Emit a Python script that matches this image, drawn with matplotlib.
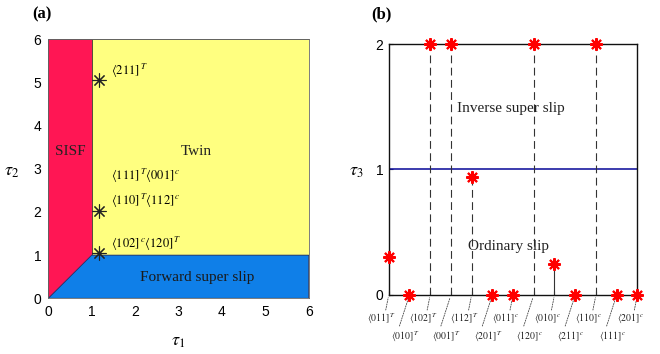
import matplotlib
matplotlib.use("Agg")
import matplotlib.pyplot as plt
from matplotlib.patches import Polygon

plt.rcParams['font.family'] = ['Liberation Sans', 'DejaVu Sans']
plt.rcParams['mathtext.fontset'] = 'stix'

# ---------------- data: panel (a) ----------------
sisf_x = [0, 0, 1, 1]
sisf_y = [0, 6, 6, 1]
twin_x = [1, 1, 6, 6]
twin_y = [1, 6, 6, 1]
fss_x = [0, 1, 6, 6]
fss_y = [0, 1, 1, 0]
star_a_x = [1.17, 1.17, 1.17]
star_a_y = [5.05, 2.03, 1.05]
star_a_labels = [r'$\langle 211]^{\,T}$',
                 r'$\langle 110]^{\,T}\langle 112]^{\,c}$',
                 r'$\langle 102]^{\,c}\langle 120]^{\,T}$']
extra_label = r'$\langle 111]^{\,T}\langle 001]^{\,c}$'
ticks_a = [0, 1, 2, 3, 4, 5, 6]

# ---------------- data: panel (b) ----------------
dirs = ['011', '010', '102', '001', '112', '201', '011',
        '120', '010', '211', '110', '111', '201']
dir_sup = ['T', 'T', 'T', 'T', 'T', 'T', 'c',
           'c', 'c', 'c', 'c', 'c', 'c']
tau3 = [0.30, 0, 2, 2, 0.94, 0, 0, 2, 0.25, 0, 2, 0, 0]
ticks_b = [0, 1, 2]

fig = plt.figure(figsize=(6.6, 3.54), dpi=100)

# ---------------- panel (a) ----------------
ax = fig.add_axes([0.0732, 0.1573, 0.3945, 0.7316])
ax.add_patch(Polygon(list(zip(sisf_x, sisf_y)), closed=True, facecolor='#FF1654',
                     edgecolor='#552233', lw=0.6, zorder=1))
ax.add_patch(Polygon(list(zip(twin_x, twin_y)), closed=True, facecolor='#FFFF80',
                     edgecolor='#444433', lw=0.6, zorder=1))
ax.add_patch(Polygon(list(zip(fss_x, fss_y)), closed=True, facecolor='#0F7FE8',
                     edgecolor='#223366', lw=0.6, zorder=1))
ax.set_xlim(0, 6)
ax.set_ylim(0, 6)
ax.set_xticks(ticks_a)
ax.set_yticks(ticks_a)
ax.tick_params(length=0, labelsize=10, pad=5)
for s in ax.spines.values():
    s.set_color('#666666')
    s.set_linewidth(0.6)
ax.plot(star_a_x, star_a_y, linestyle='none', marker=(8, 2, 0), markersize=10,
        markeredgewidth=0.8, color='#222222', clip_on=False, zorder=3)
for x, y, lab in zip(star_a_x, star_a_y, star_a_labels):
    ax.text(x + 0.27, y + 0.22, lab, fontsize=9, ha='left', va='center')
ax.text(star_a_x[1] + 0.27, 2.84, extra_label, fontsize=9, ha='left', va='center')
ax.text(0.5, 3.4, 'SISF', family='Liberation Serif', fontsize=11, ha='center',
        va='center', color='#222222')
ax.text(3.42, 3.4, 'Twin', family='Liberation Serif', fontsize=11, ha='center',
        va='center', color='#222222')
ax.text(3.42, 0.49, 'Forward super slip', family='Liberation Serif', fontsize=11,
        ha='center', va='center', color='#1a1a1a')
fig.text(178 / 660, 1 - 342 / 354, r'$\tau_1$', fontsize=13, ha='center', va='center')
fig.text(12 / 660, 1 - 172 / 354, r'$\tau_2$', fontsize=13, ha='center', va='center')
fig.text(42 / 660, 1 - 14 / 354, '(a)', family='Liberation Serif', fontweight='bold',
         fontsize=12, ha='center', va='center')

# ---------------- panel (b) ----------------
bx = fig.add_axes([0.589, 0.1667, 0.3767, 0.709])
xs = list(range(len(dirs)))
bx.set_xlim(0, len(dirs) - 1)
bx.set_ylim(0, 2)
bx.axhline(1, color='#1a1aa0', lw=1.2, zorder=2)
for x, v in zip(xs, tau3):
    if v > 0 and x > 0:
        ls = (0, (7, 4)) if v > 0.5 else '-'
        bx.plot([x, x], [0, v], color='#333333', lw=0.8, linestyle=ls, zorder=2)
bx.plot(xs, tau3, linestyle='none', marker=(8, 2, 0), markersize=9,
        markeredgewidth=1.5, color='#FF0000', clip_on=False, zorder=4)
bx.set_yticks(ticks_b)
bx.set_xticks(xs)
bx.set_xticklabels([])
bx.tick_params(axis='x', direction='in', length=3, width=0.8, color='#333333')
bx.tick_params(axis='y', direction='in', length=3, labelsize=10, pad=4)
for s in bx.spines.values():
    s.set_linewidth(1.0)
    s.set_color('#111111')
for i, (d, sup) in enumerate(zip(dirs, dir_sup)):
    if i % 2 == 0:
        lend = (-3, -15)
        lpos = (-7, -17)
    else:
        lend = (-10, -31)
        lpos = (-4, -35)
    bx.annotate('', xy=(i, 0), xycoords='data', xytext=lend, textcoords='offset pixels',
                arrowprops=dict(arrowstyle='-', linestyle=(0, (1.5, 1.5)), lw=0.6,
                                color='#444444', shrinkA=0, shrinkB=2),
                annotation_clip=False)
    bx.annotate(r'$\langle %s]^{\,%s}$' % (d, sup), xy=(i, 0), xycoords='data',
                xytext=lpos, textcoords='offset pixels', ha='center', va='top',
                fontsize=7, color='#222222', annotation_clip=False)
bx.text(5.9, 1.49, 'Inverse super slip', family='Liberation Serif', fontsize=11,
        ha='center', va='center', color='#222222')
bx.text(5.8, 0.385, 'Ordinary slip', family='Liberation Serif', fontsize=11,
        ha='center', va='center', color='#222222')
fig.text(356 / 660, 1 - 171 / 354, r'$\tau_3$', fontsize=13, ha='center', va='center')
fig.text(381 / 660, 1 - 14 / 354, '(b)', family='Liberation Serif', fontweight='bold',
         fontsize=12, ha='center', va='center')

fig.savefig('out.png', dpi=100)
